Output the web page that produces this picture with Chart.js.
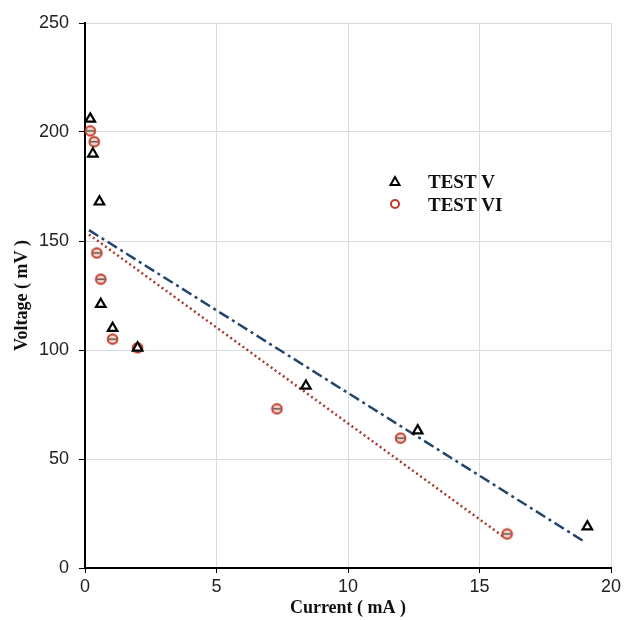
<!DOCTYPE html>
<html>
<head>
<meta charset="utf-8">
<script src="https://cdn.jsdelivr.net/npm/chart.js@4.4.1/dist/chart.umd.min.js"></script>
<style>
  html, body { margin: 0; padding: 0; background: #fff; }
  #wrap { width: 625px; height: 620px; }
</style>
</head>
<body>
<div id="wrap"><canvas id="grafico" width="625" height="620"></canvas></div>
<script>
// valores
const corrente5 = [0.2, 0.3, 0.55, 0.6, 1.05, 2.0, 8.4, 12.65, 19.1];
const tensao5   = [206, 190, 168, 121, 110, 101, 83.5, 63, 19];
const corrente6 = [0.2, 0.35, 0.45, 0.6, 1.05, 2.0, 7.3, 12.0, 16.05];
const tensao6   = [200.5, 195.5, 144.5, 132.5, 105, 101, 73, 59.6, 15.6];

// linhas de tendência (extremos)
const tendencia5X = [0.15, 19.0];
const tendencia5Y = [155, 12];
const tendencia6X = [0.15, 15.95];
const tendencia6Y = [153, 14];

const legendas = ['TEST V', 'TEST VI'];
const xTicks = [0, 5, 10, 15, 20];
const yTicks = [0, 50, 100, 150, 200, 250];

const pontos = (xs, ys) => xs.map((x, i) => ({ x: x, y: ys[i] }));

// marcador: círculo vermelho com um traço escuro no meio (como no original)
function criarMarcadorCirculo() {
  const c = document.createElement('canvas');
  c.width = 13;
  c.height = 13;
  const g = c.getContext('2d');
  g.fillStyle = '#f6ddd6';
  g.strokeStyle = '#c0392b';
  g.lineWidth = 2;
  g.beginPath();
  g.arc(6.5, 6.5, 4.8, 0, Math.PI * 2);
  g.fill();
  g.stroke();
  g.strokeStyle = '#3a3a2a';
  g.lineWidth = 1.3;
  g.beginPath();
  g.moveTo(3, 6.5);
  g.lineTo(10, 6.5);
  g.stroke();
  return c;
}
const marcadorCirculo = criarMarcadorCirculo();

// legenda desenhada dentro da área do gráfico
const legendaInterna = {
  id: 'legendaInterna',
  afterDatasetsDraw(chart) {
    const ctx = chart.ctx;
    const area = chart.chartArea;
    const x0 = area.left + 310;
    const y0 = area.top + 158;
    ctx.save();
    ctx.font = 'bold 19px "Liberation Serif", "Times New Roman", serif';
    ctx.fillStyle = '#111';
    ctx.textBaseline = 'middle';
    // triângulo
    ctx.strokeStyle = '#000';
    ctx.lineWidth = 2;
    ctx.beginPath();
    ctx.moveTo(x0, y0 - 4);
    ctx.lineTo(x0 + 4.5, y0 + 4);
    ctx.lineTo(x0 - 4.5, y0 + 4);
    ctx.closePath();
    ctx.stroke();
    ctx.fillText(legendas[0], x0 + 33, y0 + 2);
    // círculo
    ctx.strokeStyle = '#c0392b';
    ctx.beginPath();
    ctx.arc(x0, y0 + 23, 4, 0, Math.PI * 2);
    ctx.stroke();
    ctx.fillText(legendas[1], x0 + 33, y0 + 25);
    ctx.restore();
  }
};

new Chart(document.getElementById('grafico'), {
  type: 'scatter',
  data: {
    datasets: [
      {
        label: legendas[0],
        data: pontos(corrente5, tensao5),
        pointStyle: 'triangle',
        pointRadius: 5.5,
        pointBorderWidth: 2.2,
        borderColor: '#000',
        backgroundColor: '#fff',
        order: 0
      },
      {
        label: legendas[1],
        data: pontos(corrente6, tensao6),
        pointStyle: marcadorCirculo,
        pointRadius: 6,
        borderColor: '#c0392b',
        backgroundColor: '#f3d6cf',
        order: 0
      },
      {
        type: 'line',
        label: 'Tendência V',
        data: pontos(tendencia5X, tendencia5Y),
        borderColor: '#24466b',
        borderWidth: 2.5,
        borderDash: [11, 4, 3, 4],
        pointRadius: 0,
        fill: false,
        order: 1
      },
      {
        type: 'line',
        label: 'Tendência VI',
        data: pontos(tendencia6X, tendencia6Y),
        borderColor: '#a8372c',
        borderWidth: 2.5,
        borderDash: [2, 3],
        pointRadius: 0,
        fill: false,
        order: 1
      }
    ]
  },
  options: {
    responsive: false,
    animation: false,
    layout: { padding: { top: 23, right: 14, left: 0, bottom: 0 } },
    plugins: {
      legend: { display: false },
      tooltip: { enabled: false }
    },
    scales: {
      x: {
        type: 'linear',
        min: 0,
        max: 20,
        afterBuildTicks: (s) => { s.ticks = xTicks.map(v => ({ value: v })); },
        afterFit: (s) => { s.height = 52; },
        border: { color: '#000', width: 2 },
        grid: { color: '#d6dce4', tickColor: '#000', tickLength: 5 },
        ticks: {
          color: '#222',
          padding: 3,
          font: { family: '"Liberation Sans", Arial, sans-serif', size: 18 }
        },
        title: {
          display: true,
          text: 'Current ( mA )',
          color: '#111',
          padding: { top: 0, bottom: 1 },
          font: { family: '"Liberation Serif", "Times New Roman", serif', size: 18, weight: 'bold' }
        }
      },
      y: {
        type: 'linear',
        min: 0,
        max: 250,
        afterBuildTicks: (s) => { s.ticks = yTicks.map(v => ({ value: v })); },
        afterFit: (s) => { s.width = 85; },
        border: { color: '#000', width: 2 },
        grid: { color: '#d6dce4', tickColor: '#000', tickLength: 6 },
        ticks: {
          color: '#222',
          padding: 10,
          font: { family: '"Liberation Sans", Arial, sans-serif', size: 18 }
        },
        title: {
          display: true,
          text: 'Voltage ( mV )',
          color: '#111',
          padding: { top: 12, bottom: 0 },
          font: { family: '"Liberation Serif", "Times New Roman", serif', size: 18, weight: 'bold' }
        }
      }
    }
  },
  plugins: [legendaInterna]
});
</script>
</body>
</html>
